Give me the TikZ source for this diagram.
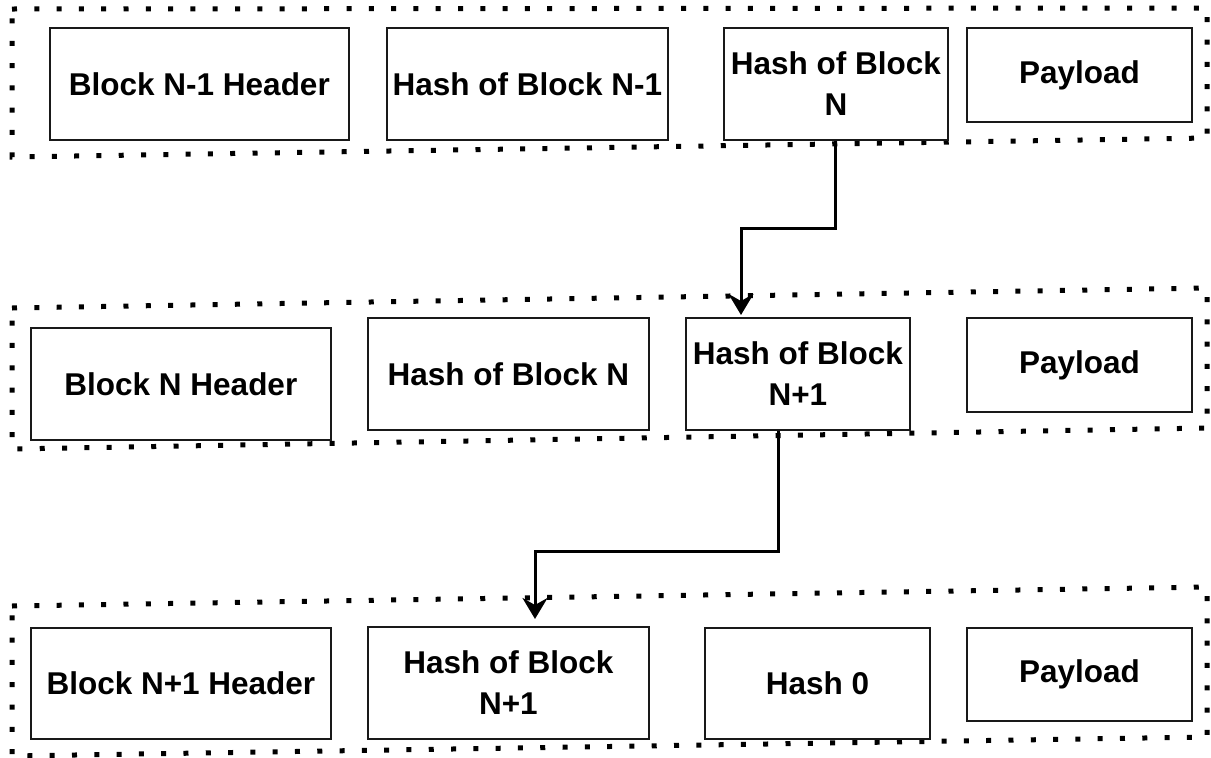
\documentclass[tikz,border=0pt]{standalone}
\usepackage{fontspec}
\setmainfont{Liberation Sans}
\usetikzlibrary{arrows.meta}
\begin{document}
\begin{tikzpicture}[x=1pt,y=-1pt,
  field/.style={draw=black!90, line width=1.8pt, rectangle, anchor=north west,
    inner sep=0pt, align=center,
    font=\fontsize{31.5}{41}\selectfont\bfseries},
  group/.style={draw=black, line width=5pt, line cap=butt,
    dash pattern=on 5pt off 17.3pt},
  link/.style={draw=black, line width=3pt,
    -{Stealth[length=21pt,width=25pt,inset=7pt]}}
]
\useasboundingbox (0,0) rectangle (1211,758);

% dotted outlines of the three blocks
\draw[group] (12,9) -- (1207,8) -- (1207,138) -- (12,157) -- cycle;
\draw[group] (12,308) -- (1207,288) -- (1207,428) -- (12,449) -- cycle;
\draw[group] (12,606) -- (1207,587) -- (1207,737) -- (12,756) -- cycle;

% block N-1
\node[field, minimum width=299pt, minimum height=112pt] (h0) at (49,27) {Block N-1 Header};
\node[field, minimum width=281pt, minimum height=112pt] (p0) at (386,27) {Hash of Block N-1};
\node[field, minimum width=224pt, minimum height=112pt] (hN) at (723,27) {Hash of Block\\N};
\node[field, minimum width=225pt, minimum height=94pt] (d0) at (966,27) {Payload};

% block N
\node[field, minimum width=300pt, minimum height=112pt] (h1) at (30,327) {Block N Header};
\node[field, minimum width=281pt, minimum height=112pt] (p1) at (367,317) {Hash of Block N};
\node[field, minimum width=224pt, minimum height=112pt] (hN1) at (685,317) {Hash of Block\\N+1};
\node[field, minimum width=225pt, minimum height=94pt] (d1) at (966,317) {Payload};

% block N+1
\node[field, minimum width=300pt, minimum height=111pt] (h2) at (30,627) {Block N+1 Header};
\node[field, minimum width=281pt, minimum height=112pt] (p2) at (367,626) {Hash of Block\\N+1};
\node[field, minimum width=225pt, minimum height=111pt] (z2) at (704,627) {Hash 0};
\node[field, minimum width=225pt, minimum height=93pt] (d2) at (966,627) {Payload};

% hash links between consecutive blocks
\coordinate (j1) at (741,228);
\draw[link, shorten >=2pt] (hN.south) |- (j1) -- (j1 |- p1.north);
\coordinate (s2) at ([xshift=-19pt]hN1.south);
\coordinate (j2) at (535,551);
\draw[link, shorten >=7pt] (s2) |- (j2) -- (j2 |- p2.north);
\end{tikzpicture}
\end{document}
